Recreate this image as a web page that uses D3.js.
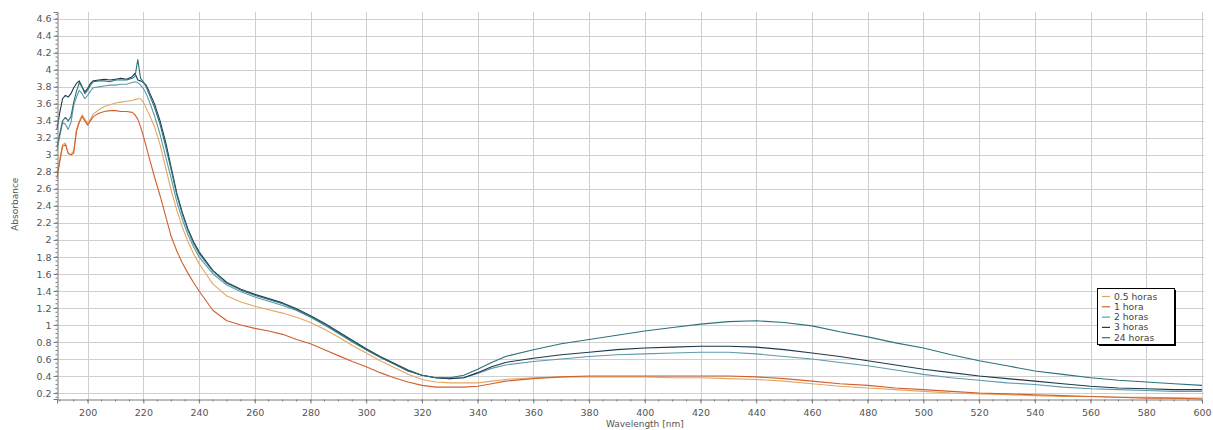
<!DOCTYPE html>
<html>
<head>
<meta charset="utf-8">
<script src="https://cdn.jsdelivr.net/npm/d3@7"></script>
<style>
  html, body { margin: 0; padding: 0; background: #fff; }
  svg { display: block; }
  text { font-family: "DejaVu Sans", sans-serif; }
</style>
</head>
<body>
<svg id="chart" width="1213" height="430"></svg>
<script>
// ---------------- data ----------------
const wavelengths = [189,190,191,192,193,194,195,196,197,198,199,200,201,202,204,206,208,210,212,214,216,217,218,219,220,221,222,224,226,228,230,232,234,236,238,240,245,250,255,260,265,270,275,280,285,290,295,300,305,310,315,320,325,330,335,340,345,350,360,370,380,390,400,410,420,430,440,450,460,470,480,490,500,510,520,530,540,550,560,570,580,590,600];

const h05 = [2.78,2.95,3.12,3.14,3.02,3.00,3.05,3.30,3.40,3.47,3.42,3.37,3.42,3.48,3.53,3.57,3.59,3.61,3.62,3.63,3.64,3.65,3.66,3.66,3.62,3.55,3.48,3.33,3.12,2.85,2.58,2.35,2.15,1.98,1.84,1.72,1.48,1.34,1.27,1.22,1.18,1.14,1.09,1.03,0.95,0.86,0.76,0.67,0.58,0.50,0.42,0.36,0.33,0.32,0.32,0.32,0.34,0.36,0.38,0.39,0.39,0.39,0.39,0.38,0.38,0.37,0.36,0.34,0.31,0.28,0.26,0.24,0.22,0.20,0.19,0.18,0.17,0.16,0.16,0.15,0.15,0.14,0.14];

const h1 = [2.72,2.92,3.10,3.12,3.02,3.00,3.02,3.28,3.38,3.45,3.40,3.35,3.40,3.45,3.49,3.51,3.52,3.52,3.51,3.51,3.50,3.47,3.42,3.33,3.22,3.10,2.98,2.74,2.52,2.28,2.04,1.87,1.73,1.61,1.50,1.40,1.17,1.05,1.00,0.96,0.93,0.89,0.83,0.78,0.71,0.64,0.57,0.51,0.44,0.38,0.33,0.29,0.27,0.27,0.27,0.28,0.31,0.34,0.37,0.39,0.40,0.40,0.40,0.40,0.40,0.40,0.39,0.37,0.34,0.31,0.29,0.26,0.24,0.22,0.20,0.19,0.18,0.17,0.16,0.15,0.14,0.14,0.13];

const h2 = [3.05,3.22,3.38,3.36,3.30,3.38,3.58,3.68,3.76,3.72,3.66,3.70,3.75,3.79,3.80,3.81,3.82,3.82,3.83,3.83,3.85,3.86,3.85,3.82,3.78,3.72,3.64,3.46,3.24,2.98,2.72,2.45,2.24,2.06,1.92,1.80,1.60,1.47,1.39,1.33,1.28,1.23,1.17,1.09,1.00,0.90,0.80,0.71,0.62,0.54,0.46,0.41,0.38,0.37,0.38,0.43,0.49,0.53,0.57,0.60,0.63,0.65,0.66,0.67,0.68,0.68,0.66,0.63,0.60,0.56,0.52,0.47,0.42,0.38,0.35,0.32,0.30,0.27,0.25,0.24,0.23,0.22,0.22];

const h3 = [3.30,3.50,3.66,3.70,3.68,3.72,3.79,3.84,3.87,3.80,3.74,3.78,3.84,3.87,3.88,3.89,3.88,3.89,3.90,3.89,3.92,3.96,3.88,3.87,3.85,3.82,3.75,3.60,3.40,3.15,2.85,2.55,2.32,2.13,1.98,1.86,1.64,1.50,1.42,1.36,1.31,1.26,1.19,1.11,1.02,0.92,0.82,0.72,0.63,0.55,0.47,0.41,0.38,0.37,0.38,0.44,0.51,0.56,0.61,0.65,0.68,0.71,0.73,0.74,0.75,0.75,0.74,0.71,0.67,0.63,0.58,0.53,0.48,0.44,0.40,0.37,0.34,0.31,0.28,0.26,0.25,0.24,0.24];

const h24 = [3.10,3.25,3.40,3.44,3.40,3.45,3.62,3.75,3.85,3.80,3.72,3.76,3.82,3.86,3.87,3.87,3.86,3.88,3.88,3.88,3.90,3.92,4.12,3.90,3.86,3.80,3.72,3.56,3.36,3.10,2.82,2.53,2.30,2.11,1.96,1.84,1.63,1.49,1.41,1.35,1.30,1.25,1.18,1.10,1.01,0.91,0.81,0.71,0.62,0.54,0.46,0.41,0.38,0.38,0.41,0.48,0.56,0.63,0.71,0.78,0.83,0.88,0.93,0.97,1.01,1.04,1.05,1.03,0.99,0.92,0.86,0.79,0.73,0.65,0.58,0.52,0.46,0.42,0.38,0.35,0.33,0.31,0.29];

const seriesNames = ["0.5 horas", "1 hora", "2 horas", "3 horas", "24 horas"];
const seriesValues = [h05, h1, h2, h3, h24];
const seriesColors = ["#e3a661", "#d0602c", "#5e9aaa", "#1f3a4c", "#2b7279"];

const xTickValues = [200,220,240,260,280,300,320,340,360,380,400,420,440,460,480,500,520,540,560,580,600];
const yTickValues = [0.2,0.4,0.6,0.8,1,1.2,1.4,1.6,1.8,2,2.2,2.4,2.6,2.8,3,3.2,3.4,3.6,3.8,4,4.2,4.4,4.6];

const xLabel = "Wavelength [nm]";
const yLabel = "Absorbance";

// ---------------- chart ----------------
(function () {
const svg = d3.select("#chart");
const pL = 57, pR = 1202, pT = 12, pB = 399;

const x = d3.scaleLinear().domain([189, 600]).range([pL, pR]);
const y = d3.scaleLinear().domain([0.13, 4.68]).range([pB, pT]);

const gridColor = "#cfcfcf";
const axisColor = "#7a7a7a";
const labelColor = "#555";

// grid
const grid = svg.append("g");
grid.selectAll("line.v").data(xTickValues).enter().append("line")
  .attr("x1", d => Math.round(x(d)) + 0.5).attr("x2", d => Math.round(x(d)) + 0.5)
  .attr("y1", pT).attr("y2", pB)
  .attr("stroke", gridColor).attr("stroke-width", 1);
grid.selectAll("line.h").data(yTickValues).enter().append("line")
  .attr("x1", pL).attr("x2", pR + 2)
  .attr("y1", d => Math.round(y(d)) + 0.5).attr("y2", d => Math.round(y(d)) + 0.5)
  .attr("stroke", gridColor).attr("stroke-width", 1);

// series
const line = d3.line().x(d => x(d[0])).y(d => y(d[1]));
seriesValues.forEach((vals, i) => {
  const pts = wavelengths.map((w, k) => [w, vals[k]]);
  svg.append("path").datum(pts)
    .attr("d", line)
    .attr("fill", "none")
    .attr("stroke", seriesColors[i])
    .attr("stroke-width", 1.1)
    .attr("stroke-linejoin", "round");
});

// x axis
const xMinor = d3.range(190, 601, 5);
const xAxis = d3.axisBottom(x).tickValues(xTickValues).tickFormat(d3.format("d")).tickSize(4).tickPadding(6);
const gx = svg.append("g").attr("transform", `translate(0,${pB + 0.5})`).call(xAxis);
gx.select(".domain").attr("stroke", axisColor);
gx.selectAll(".tick line").attr("stroke", axisColor);
gx.selectAll(".tick text").attr("fill", labelColor).style("font-size", "9.5px").style("font-family", "DejaVu Sans");
svg.append("g").selectAll("line").data(xMinor).enter().append("line")
  .attr("x1", d => x(d)).attr("x2", d => x(d))
  .attr("y1", pB + 0.5).attr("y2", pB + 2.5)
  .attr("stroke", axisColor);

// y axis
const yMinor = d3.range(0.15, 4.66, 0.05);
const yAxis = d3.axisLeft(y).tickValues(yTickValues).tickFormat(d => d3.format("~g")(d)).tickSize(4).tickPadding(2);
const gy = svg.append("g").attr("transform", `translate(${pL + 0.5},0)`).call(yAxis);
gy.select(".domain").attr("stroke", axisColor);
gy.selectAll(".tick line").attr("stroke", axisColor);
gy.selectAll(".tick text").attr("fill", labelColor).style("font-size", "9.5px").style("font-family", "DejaVu Sans");
svg.append("g").selectAll("line").data(yMinor).enter().append("line")
  .attr("x1", pL + 0.5).attr("x2", pL - 1.5)
  .attr("y1", d => y(d)).attr("y2", d => y(d))
  .attr("stroke", axisColor);

// axis labels
svg.append("text")
  .attr("x", x(400)).attr("y", 427)
  .attr("text-anchor", "middle")
  .attr("fill", labelColor)
  .style("font-size", "9px")
  .text(xLabel);
svg.append("text")
  .attr("transform", `translate(18,${y(2.42)}) rotate(-90)`)
  .attr("text-anchor", "middle")
  .attr("fill", labelColor)
  .style("font-size", "9px")
  .text(yLabel);

// legend
const lgX = 1097, lgY = 288, lgW = 77, lgH = 56;
const lg = svg.append("g");
lg.append("rect").attr("x", lgX + 2).attr("y", lgY + 2).attr("width", lgW).attr("height", lgH).attr("fill", "#000");
lg.append("rect").attr("x", lgX + 0.5).attr("y", lgY + 0.5).attr("width", lgW).attr("height", lgH)
  .attr("fill", "#fff").attr("stroke", "#000").attr("stroke-width", 1);
seriesNames.forEach((name, i) => {
  const cy = lgY + 8 + i * 10.3;
  lg.append("line").attr("x1", lgX + 5).attr("x2", lgX + 13)
    .attr("y1", cy + 0.5).attr("y2", cy + 0.5)
    .attr("stroke", seriesColors[i]).attr("stroke-width", 1.2);
  lg.append("text").attr("x", lgX + 17).attr("y", cy + 3.5)
    .attr("fill", "#444").style("font-size", "9.2px").text(name);
});
})();
</script>
</body>
</html>
